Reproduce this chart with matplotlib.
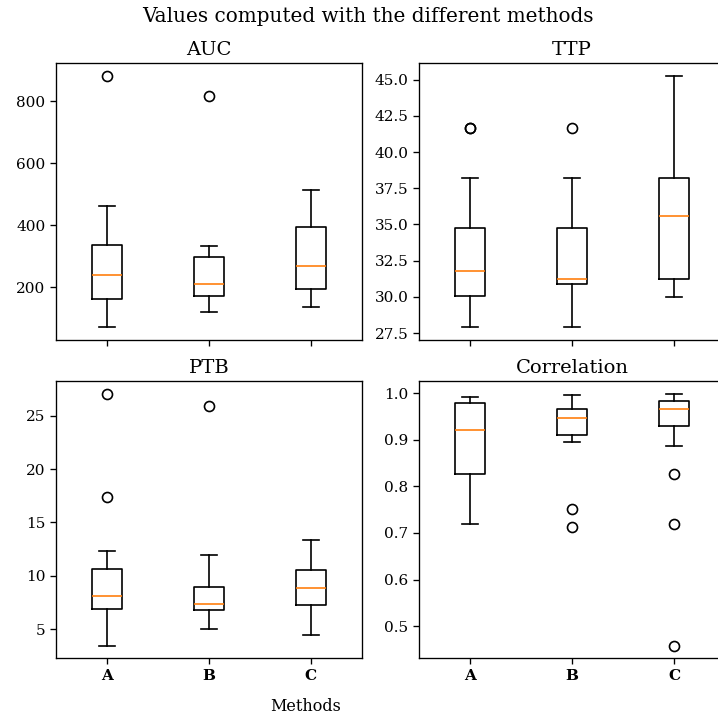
import matplotlib
matplotlib.use('Agg')
import matplotlib.pyplot as plt
from matplotlib.ticker import MultipleLocator

plt.rcParams['font.family'] = 'serif'
plt.rcParams['xtick.labelsize'] = 11
plt.rcParams['ytick.labelsize'] = 11
plt.rcParams['axes.linewidth'] = 0.96
plt.rcParams['xtick.major.width'] = 0.96
plt.rcParams['ytick.major.width'] = 0.96
plt.rcParams['xtick.major.size'] = 4.2
plt.rcParams['ytick.major.size'] = 4.2

methods = ['A', 'B', 'C']
titles = ['AUC', 'TTP', 'PTB', 'Correlation']

# box statistics per metric, one entry per method (A, B, C)
auc_med = [240, 209, 267]
auc_q1 = [163, 173, 195]
auc_q3 = [337, 297, 393]
auc_lo = [71, 119, 135]
auc_hi = [461, 332, 514]
auc_fliers = [[882], [815], []]

ttp_med = [31.75, 31.25, 35.55]
ttp_q1 = [30.07, 30.9, 31.25]
ttp_q3 = [34.72, 34.72, 38.22]
ttp_lo = [27.9, 27.9, 30.0]
ttp_hi = [38.22, 38.22, 45.28]
ttp_fliers = [[41.67, 41.67], [41.67], []]

ptb_med = [8.14, 7.36, 8.83]
ptb_q1 = [6.9, 6.8, 7.27]
ptb_q3 = [10.62, 8.93, 10.53]
ptb_lo = [3.44, 5.0, 4.44]
ptb_hi = [12.32, 11.99, 13.32]
ptb_fliers = [[27.04, 17.4], [25.88], []]

cor_med = [0.920, 0.946, 0.966]
cor_q1 = [0.827, 0.910, 0.930]
cor_q3 = [0.979, 0.966, 0.984]
cor_lo = [0.719, 0.895, 0.887]
cor_hi = [0.992, 0.995, 0.998]
cor_fliers = [[], [0.752, 0.713], [0.827, 0.719, 0.458]]

metrics = [
    (auc_med, auc_q1, auc_q3, auc_lo, auc_hi, auc_fliers),
    (ttp_med, ttp_q1, ttp_q3, ttp_lo, ttp_hi, ttp_fliers),
    (ptb_med, ptb_q1, ptb_q3, ptb_lo, ptb_hi, ptb_fliers),
    (cor_med, cor_q1, cor_q3, cor_lo, cor_hi, cor_fliers),
]

fig, axs = plt.subplots(2, 2, figsize=(7.18, 7.18), dpi=100, sharex=True)
fig.subplots_adjust(left=0.078, right=1.0097, top=0.9123, bottom=0.0831,
                    wspace=0.187, hspace=0.1505)

box_line = dict(linewidth=1.2)
flier_style = dict(marker='o', markersize=7.2, markeredgewidth=1.2,
                   markerfacecolor='none', markeredgecolor='black')
for ax, title, (med, q1, q3, lo, hi, fl) in zip(axs.flat, titles, metrics):
    stats = []
    for i in range(len(methods)):
        stats.append({'med': med[i], 'q1': q1[i], 'q3': q3[i],
                      'whislo': lo[i], 'whishi': hi[i], 'fliers': fl[i],
                      'label': methods[i]})
    ax.bxp(stats, showfliers=True, boxprops=box_line, whiskerprops=box_line,
           capprops=box_line, flierprops=flier_style,
           medianprops=dict(linewidth=1.2, color='C1'))
    ax.set_title(title, fontsize=14)

axs[0, 0].yaxis.set_major_locator(MultipleLocator(200))

for ax in axs[1]:
    ax.set_xticks([1, 2, 3])
    ax.set_xticklabels(methods, fontweight='bold')

fig.suptitle('Values computed with the different methods', fontsize=14.4,
             x=367.6 / 718, y=1 - 17 / 718, va='center')
fig.text(305.5 / 718, 1 - 706.7 / 718, 'Methods', fontsize=11.5,
         ha='center', va='center')

fig.savefig('out.png', dpi=100)
